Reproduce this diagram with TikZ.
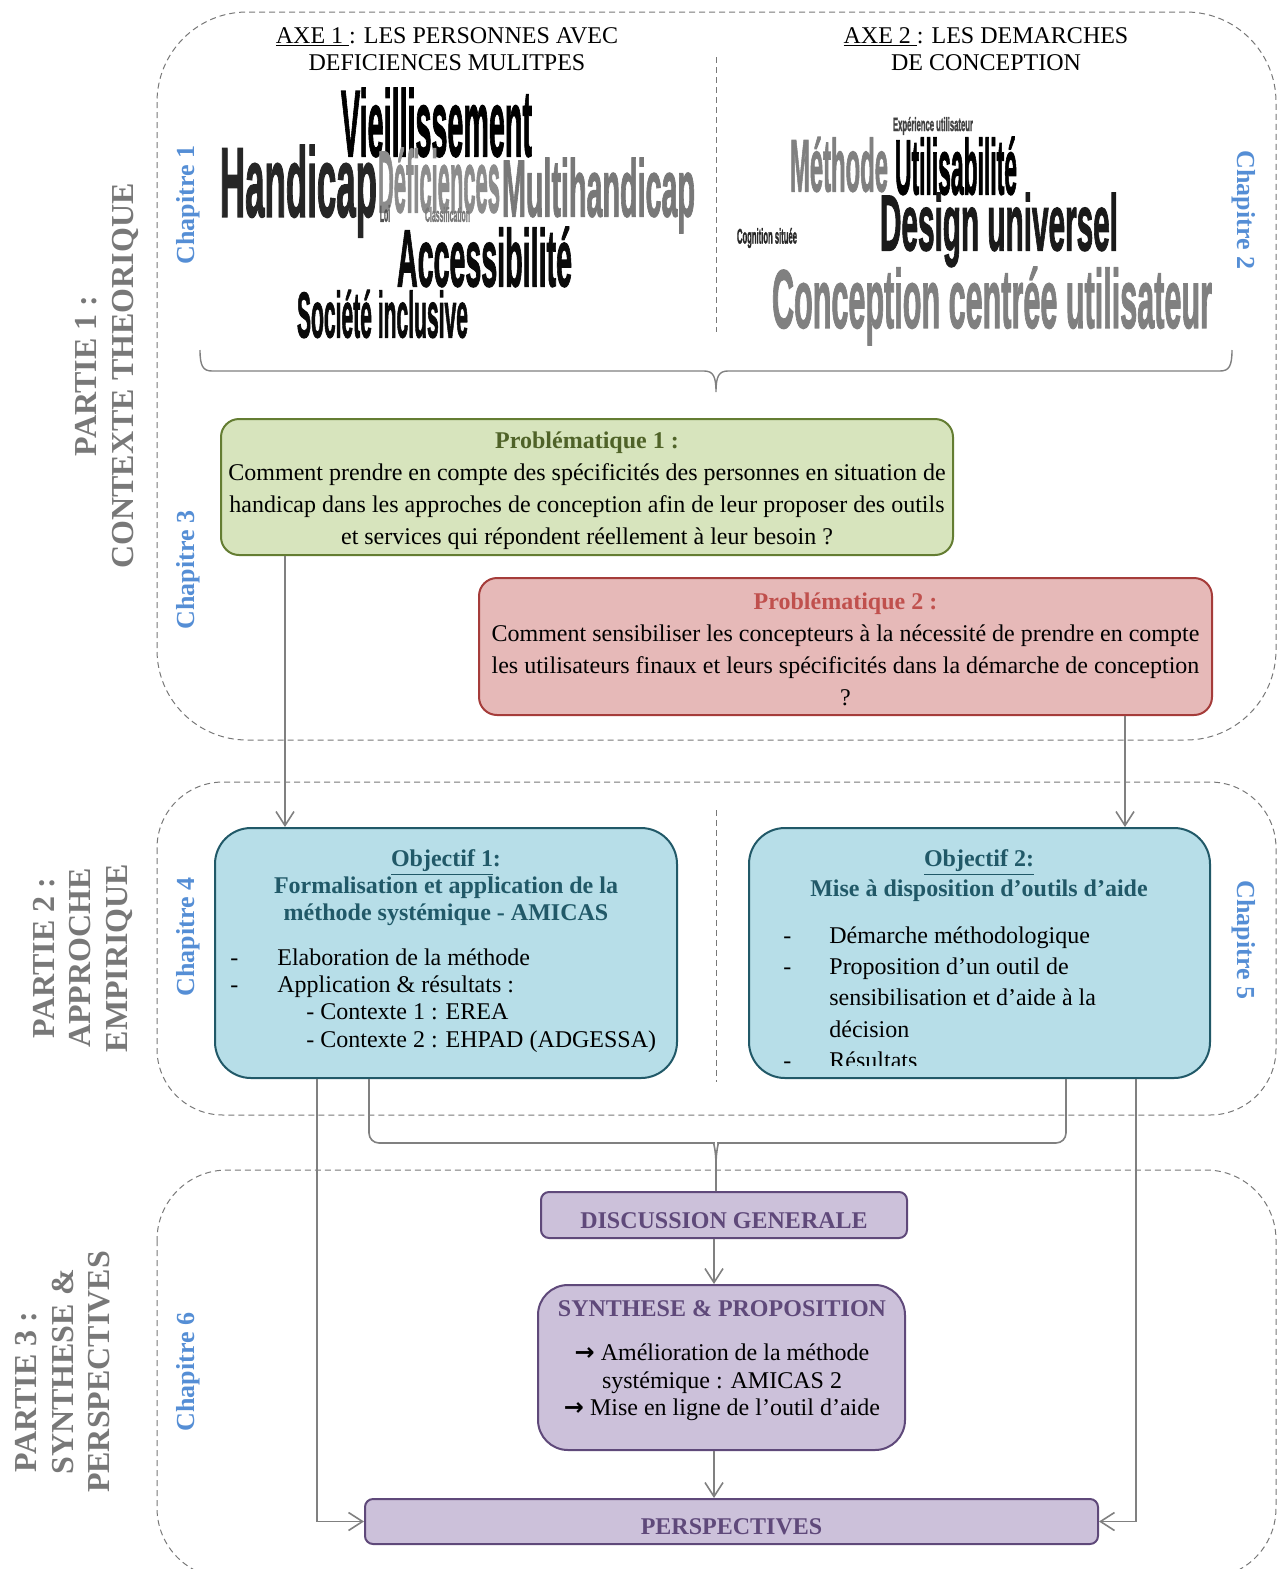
\documentclass[tikz,border=0pt]{standalone}
\usepackage{fontspec}
\setmainfont{Liberation Serif}
\newfontfamily\cloudfont{Liberation Sans}[FakeBold=2]
\newfontfamily\symfont{DejaVu Sans}
\usetikzlibrary{arrows.meta,calc}
\definecolor{chapblue}{RGB}{85,142,213}
\definecolor{partgray}{RGB}{120,120,120}
\definecolor{dashgray}{RGB}{120,120,120}
\definecolor{arrgray}{RGB}{128,128,128}
\definecolor{tealdk}{RGB}{33,89,104}
\definecolor{tealfill}{RGB}{183,222,232}
\definecolor{grfill}{RGB}{215,228,189}
\definecolor{grline}{RGB}{100,125,50}
\definecolor{grtext}{RGB}{79,98,40}
\definecolor{rdfill}{RGB}{230,185,184}
\definecolor{rdline}{RGB}{165,60,58}
\definecolor{rdtext}{RGB}{192,80,77}
\definecolor{pufill}{RGB}{204,193,218}
\definecolor{puline}{RGB}{95,73,122}
\newcommand{\wcw}[4]{\textcolor[RGB]{#4}{\resizebox*{#1}{#2}{\cloudfont\bfseries #3}}}
\begin{document}
\begin{tikzpicture}[x=0.5pt,y=-0.5pt,
  partbox/.style={draw=dashgray, line width=0.5pt, dash pattern=on 3pt off 2pt},
  conn/.style={draw=arrgray, line width=0.8pt},
  arr/.style={conn, -{Straight Barb[length=7pt,width=9pt,line width=0.8pt]}},
  txt/.style={font=\fontsize{12}{14}\selectfont, inner sep=0pt},
  ttl/.style={font=\bfseries\fontsize{12}{14}\selectfont, text=tealdk, inner sep=0pt, anchor=base},
  lst/.style={font=\fontsize{12}{14}\selectfont, inner sep=0pt, anchor=base west},
  chap/.style={font=\bfseries\fontsize{13}{15}\selectfont, text=chapblue, inner sep=0pt},
  partie/.style={font=\bfseries\fontsize{16}{18.3}\selectfont, text=partgray, align=center, inner sep=0pt},
  wc/.style={inner sep=0pt},
  probbox/.style={line width=1pt, rounded corners=9pt, align=center, inner sep=0pt,
     font=\fontsize{12}{16}\selectfont},
  objbox/.style={draw=tealdk, fill=tealfill, line width=1pt, rounded corners=18pt,
     minimum width=231pt, minimum height=125pt, inner sep=0pt},
  purbox/.style={draw=puline, fill=pufill, line width=1pt, inner sep=0pt},
  purtxt/.style={font=\bfseries\fontsize{12}{14}\selectfont, text=puline, inner sep=0pt, anchor=base}
]
\useasboundingbox (0,0) rectangle (1283,1569);
\begin{scope}
\clip (0,0) rectangle (1283,1569);
% part frames
\draw[partbox, rounded corners=45pt] (157,12) rectangle (1276,740);
\draw[partbox, rounded corners=33pt] (157,782) rectangle (1276,1115);
\draw[partbox, rounded corners=35pt] (157,1170) rectangle (1276,1578);
\end{scope}
\draw[partbox] (716,57) -- (716,332);
\draw[partbox] (716,810) -- (716,1082);

% headers
\node[txt, anchor=base] (ax1a) at (447,43) {\underline{AXE 1 }: LES PERSONNES AVEC};
\node[txt, anchor=base] (ax1b) at (447,70) {DEFICIENCES MULITPES};
\node[txt, anchor=base] (ax2a) at (986,43) {\underline{AXE 2 }: LES DEMARCHES};
\node[txt, anchor=base] (ax2b) at (986,70) {DE CONCEPTION};

% word cloud 1
\node[wc] (w1) at (436.5,122.5) {\wcw{95.5pt}{34.5pt}{Vieillissement}{0,0,0}};
\node[wc] (w2) at (298.5,191) {\wcw{78.5pt}{46pt}{Handicap}{38,38,38}};
\node[wc] (w3) at (439,180.5) {\wcw{61pt}{32.5pt}{Déficiences}{140,140,140}};
\node[wc] (w4) at (598.5,195.5) {\wcw{96.5pt}{37.5pt}{Multihandicap}{120,120,120}};
\node[wc] (w5) at (385,213.5) {\wcw{5pt}{8.5pt}{Loi}{80,80,80}};
\node[wc] (w6) at (447.5,214.5) {\wcw{22.5pt}{7.5pt}{Classification}{120,120,120}};
\node[wc] (w7) at (484.5,257) {\wcw{87.5pt}{30pt}{Accessibilité}{10,10,10}};
\node[wc] (w8) at (382.5,314) {\wcw{85.5pt}{24pt}{Société inclusive}{10,10,10}};
% word cloud 2
\node[wc] (v1) at (933,126) {\wcw{40pt}{9pt}{Expérience utilisateur}{64,64,64}};
\node[wc] (v2) at (839,164.5) {\wcw{49pt}{27.5pt}{Méthode}{128,128,128}};
\node[wc] (v3) at (956,166) {\wcw{61pt}{29pt}{Utilisabilité}{0,0,0}};
\node[wc] (v4) at (767,238) {\wcw{30pt}{10pt}{Cognition située}{38,38,38}};
\node[wc] (v5) at (999,230) {\wcw{119pt}{37pt}{Design universel}{26,26,26}};
\node[wc] (v6) at (992,306) {\wcw{220pt}{39pt}{Conception centrée utilisateur}{128,128,128}};

% brace
\draw[conn, line width=0.7pt] (200,350) .. controls (200,366) and (203,371) .. (212,371) -- (704,371)
  .. controls (713,371) and (716,376) .. (716,392) .. controls (716,376) and (719,371) .. (728,371)
  -- (1220,371) .. controls (1229,371) and (1232,366) .. (1232,350);

% chapter labels
\node[chap, rotate=90] (ch1) at (188,205) {Chapitre 1};
\node[chap, rotate=-90] (ch2) at (1244,210) {Chapitre 2};
\node[chap, rotate=90] (ch3) at (188,570) {Chapitre 3};
\node[chap, rotate=90] (ch4) at (188,937) {Chapitre 4};
\node[chap, rotate=-90] (ch5) at (1244,940) {Chapitre 5};
\node[chap, rotate=90] (ch6) at (188,1372) {Chapitre 6};

% part labels
\node[partie, rotate=90] (pt1) at (107,376) {PARTIE 1 :\\CONTEXTE THEORIQUE};
\node[partie, rotate=90] (pt2) at (83,958) {PARTIE 2 :\\APPROCHE\\EMPIRIQUE};
\node[partie, rotate=90] (pt3) at (63,1372) {PARTIE 3 :\hspace*{20pt}\\SYNTHESE \&\\PERSPECTIVES};

% problematiques
\node[probbox, draw=grline, fill=grfill, minimum width=366pt, minimum height=68pt] (p1) at (587,487) {};
\node[align=center, inner sep=0pt, font=\fontsize{12}{16}\selectfont] (p1t) at (587,491)
 {\textbf{\textcolor{grtext}{Problématique 1 :}}\\
  Comment prendre en compte des spécificités des personnes en situation de\\
  handicap dans les approches de conception afin de leur proposer des outils\\
  et services qui répondent réellement à leur besoin ?};
\node[probbox, draw=rdline, fill=rdfill, minimum width=366.5pt, minimum height=68.5pt] (p2) at (845.5,646.5) {};
\node[align=center, inner sep=0pt, font=\fontsize{12}{16}\selectfont] (p2t) at (845.5,649.5)
 {\textbf{\textcolor{rdtext}{Problématique 2 :}}\\
  Comment sensibiliser les concepteurs à la nécessité de prendre en compte\\
  les utilisateurs finaux et leurs spécificités dans la démarche de conception\\
  ?};

% objectives
\node[objbox] (o1) at (446,953) {};
\node[objbox, minimum width=230.5pt] (o2) at (979.5,953) {};

\node[ttl] (o1t) at (446,866) {\underline{Objectif 1}:};
\node[ttl] (o1a) at (446,893) {Formalisation et application de la};
\node[ttl] (o1b) at (446,920) {méthode systémique - AMICAS};
\node[lst] (o1d1) at (230,965) {-};
\node[lst] (o1l1) at (277,965) {Elaboration de la méthode};
\node[lst] (o1d2) at (230,992) {-};
\node[lst] (o1l2) at (277,992) {Application \& résultats :};
\node[lst] (o1s1) at (306,1019) {- Contexte 1 : EREA};
\node[lst] (o1s2) at (306,1047) {- Contexte 2 : EHPAD (ADGESSA)};

\node[ttl] (o2t) at (979,866) {\underline{Objectif 2:}};
\node[ttl] (o2a) at (979,896) {Mise à disposition d’outils d’aide};
\begin{scope}
\clip (740,900) rectangle (1220,1065);
\node[lst] (o2d1) at (783,943) {-};
\node[lst] (o2l1) at (829,943) {Démarche méthodologique};
\node[lst] (o2d2) at (783,974) {-};
\node[lst] (o2l2) at (829,974) {Proposition d’un outil de};
\node[lst] (o2l3) at (829,1005) {sensibilisation et d’aide à la};
\node[lst] (o2l4) at (829,1037) {décision};
\node[lst] (o2d5) at (783,1068) {-};
\node[lst] (o2l5) at (829,1068) {Résultats};
\end{scope}

% purple boxes
\node[purbox, rounded corners=4pt, minimum width=183pt, minimum height=23pt] (disc) at (724,1215) {};
\node[purtxt] (disct) at (724,1228) {DISCUSSION GENERALE};
\node[purbox, rounded corners=15pt, minimum width=183.5pt, minimum height=82.5pt] (synth) at (721.5,1367.5) {};
\node[purbox, rounded corners=4pt, minimum width=366.5pt, minimum height=22.5pt] (pers) at (731.5,1521.5) {};
\node[purtxt] (perst) at (731.5,1534) {PERSPECTIVES};
\node[purtxt] (st) at (722,1316) {SYNTHESE \& PROPOSITION};
\node[txt, anchor=base] (s1) at (722,1360) {{\symfont\bfseries →} Amélioration de la méthode};
\node[txt, anchor=base] (s2) at (722,1388) {systémique : AMICAS 2};
\node[txt, anchor=base] (s3) at (722,1415) {{\symfont\bfseries →} Mise en ligne de l’outil d’aide};

% connectors
\coordinate (a1) at ([xshift=32.5pt]p1.south west);
\draw[arr] (a1) -- (a1 |- o1.north);
\coordinate (a2) at ([xshift=323.5pt]p2.south west);
\draw[arr] (a2) -- (a2 |- o2.north);
\coordinate (b1) at ([xshift=51.5pt]o1.south west);
\draw[arr] (b1) |- (pers.west);
\coordinate (b2) at ([xshift=194pt]o2.south west);
\draw[arr] (b2) |- (pers.east);
\coordinate (c1) at ([xshift=77.5pt]o1.south west);
\coordinate (c2) at ([xshift=159pt]o2.south west);
\coordinate (hl) at (704,1143);
\coordinate (hr) at (728,1143);
\coordinate (hm) at (716,1165);
\draw[conn] (c1) [rounded corners=5pt] -- (c1 |- hl) -- (hl) [sharp corners]
   .. controls (713,1143) and (716,1149) .. (hm) -- (hm |- disc.north);
\draw[conn] (c2) [rounded corners=5pt] -- (c2 |- hr) -- (hr) [sharp corners]
   .. controls (719,1143) and (716,1149) .. (hm);
\coordinate (d1) at (714,0);
\draw[arr] (d1 |- disc.south) -- (d1 |- synth.north);
\draw[arr] (d1 |- synth.south) -- (d1 |- pers.north);
\end{tikzpicture}
\end{document}
